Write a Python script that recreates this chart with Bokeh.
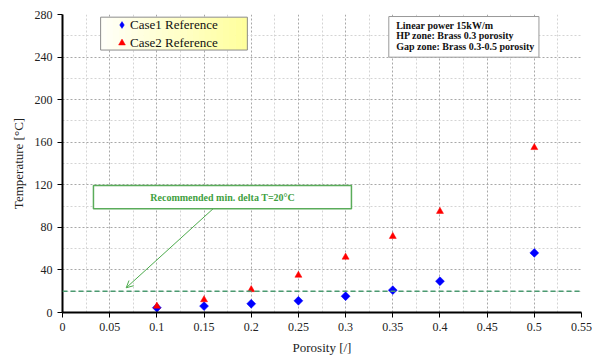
import numpy as np
from bokeh.plotting import figure
from bokeh.models import (Range1d, FixedTicker, CustomJSTickFormatter, Span, BoxAnnotation,
                          Label, Arrow, OpenHead, Legend, LegendItem)
from bokeh.embed import file_html
from bokeh.resources import INLINE

# ---- data ----
porosity = [0.1, 0.15, 0.2, 0.25, 0.3, 0.35, 0.4, 0.5]
case1_temp = [4.5, 6.0, 8.2, 11.0, 15.3, 21.0, 29.4, 56.0]
case2_temp = [6.0, 12.0, 21.5, 35.0, 52.0, 71.5, 95.0, 155.0]
x_major = [0, 0.05, 0.1, 0.15, 0.2, 0.25, 0.3, 0.35, 0.4, 0.45, 0.5, 0.55]
x_minor = [0.025, 0.075, 0.125, 0.175, 0.225, 0.275, 0.325, 0.375, 0.425, 0.475, 0.525]
y_major = [0, 40, 80, 120, 160, 200, 240, 280]
y_minor = [20, 60, 100, 140, 180, 220, 260]
recommended_delta_t = 20
info_lines = ["Linear power 15kW/m", "HP zone: Brass 0.3 porosity", "Gap zone: Brass 0.3-0.5 porosity"]
green_note = "Recommended min. delta T=20\u00b0C"

SERIF = "Liberation Serif"
GREEN = "#3f9f3f"

p = figure(width=602, height=361, x_range=Range1d(0, 0.55), y_range=Range1d(0, 280),
           output_backend="svg", toolbar_location=None,
           min_border_left=62, min_border_right=21, min_border_top=14, min_border_bottom=49)
p.outline_line_color = None
p.background_fill_color = "white"

# axes
p.xaxis.ticker = FixedTicker(ticks=x_major, minor_ticks=x_minor)
p.yaxis.ticker = FixedTicker(ticks=y_major, minor_ticks=y_minor)
p.xaxis.formatter = CustomJSTickFormatter(code="return (Math.round(tick*1000)/1000).toString();")
for ax in (p.xaxis, p.yaxis):
    ax.axis_line_width = 2
    ax.axis_line_color = "black"
    ax.major_tick_in = 0
    ax.major_tick_out = 5
    ax.major_tick_line_width = 1
    ax.major_tick_line_color = "black"
    ax.minor_tick_line_color = None
    ax.major_label_text_font = SERIF
    ax.major_label_text_font_size = "12px"
    ax.major_label_text_color = "#222222"
    ax.axis_label_text_font = SERIF
    ax.axis_label_text_font_size = "13px"
    ax.axis_label_text_font_style = "normal"
    ax.axis_label_text_color = "#222222"
p.xaxis.axis_label = "Porosity [/]"
p.yaxis.axis_label = "Temperature [\u00b0C]"
p.xaxis.major_label_standoff = 5
p.xaxis.axis_label_standoff = 6
p.yaxis.major_label_standoff = 5
p.yaxis.axis_label_standoff = 6

# grid
for g in (p.xgrid, p.ygrid):
    g.grid_line_color = "#a8a8a8"
    g.grid_line_dash = "2 2"
    g.grid_line_width = 1
    g.minor_grid_line_color = "#d4d4d4"
    g.minor_grid_line_dash = "2 2"
    g.minor_grid_line_width = 1

# recommended delta T line
p.add_layout(Span(location=recommended_delta_t, dimension="width", line_color="#4a9a70",
                  line_dash="5 3", line_width=1.5))

# data: Case1 diamonds (legend key drawn underneath, the rotated square on top)
r1_key = p.scatter(porosity, case1_temp, marker="diamond", size=7, fill_color="#0000ff",
                   line_color="#0000ff", line_width=0.5)
r1 = p.scatter(porosity, case1_temp, marker="square", angle=np.pi / 4, size=6.3,
               fill_color="#0000ff", line_color="#0000ff", line_width=0.5)
r2 = p.scatter(porosity, case2_temp, marker="triangle", size=7, fill_color="#ff0000",
               line_color="#ff0000", line_width=0.5)

# legend background (gradient white -> light yellow)
lx0, lx1, ly0, ly1 = 0.0404, 0.1959, 246.6, 277.5
n_strips = 24
for i in range(n_strips):
    t = (i + 0.5) / n_strips
    b = int(round(250 - 95 * t))
    col = "#%02x%02x%02x" % (255, 255, max(0, min(255, b)))
    p.add_layout(BoxAnnotation(left=lx0 + (lx1 - lx0) * i / n_strips,
                               right=lx0 + (lx1 - lx0) * (i + 1) / n_strips + 0.0005,
                               bottom=ly0, top=ly1, fill_color=col, fill_alpha=1,
                               line_color=None))
p.add_layout(BoxAnnotation(left=lx0, right=lx1, bottom=ly0, top=ly1, fill_color=None,
                           line_color="#8c8c8c", line_alpha=1, line_width=1))

legend = Legend(items=[LegendItem(label="Case1 Reference", renderers=[r1_key]),
                       LegendItem(label="Case2 Reference", renderers=[r2])],
                location=(51, 261), margin=0, padding=0, spacing=1,
                glyph_width=17, glyph_height=17, label_height=17, label_standoff=0,
                label_text_font=SERIF, label_text_font_size="13px",
                label_text_color="#111111",
                background_fill_alpha=0, border_line_alpha=0)
p.add_layout(legend)

# info box top right
p.add_layout(BoxAnnotation(left=0.3458, right=0.5049, bottom=239.9, top=278.1,
                           fill_color="white", fill_alpha=1, line_color="#999999",
                           line_alpha=1, line_width=1))
for txt, yy in zip(info_lines, [269.7, 260.3, 249.9]):
    p.add_layout(Label(x=0.3536, y=yy, text=txt, text_font=SERIF, text_font_size="10px",
                       text_font_style="bold", text_baseline="middle", text_align="left",
                       text_color="#111111"))

# green note box + arrow
p.add_layout(BoxAnnotation(left=0.0328, right=0.3062, bottom=97.4, top=119.3,
                           fill_color="white", fill_alpha=1, line_color="#5aac5a",
                           line_alpha=1, line_width=1.5))
p.add_layout(Label(x=0.1697, y=108.3, text=green_note, text_font=SERIF, text_font_size="10px",
                   text_font_style="bold", text_baseline="middle", text_align="center",
                   text_color=GREEN))
p.add_layout(Arrow(x_start=0.1595, y_start=97.4, x_end=0.0675, y_end=23.2,
                   line_color="#4caa4c", line_width=1,
                   end=OpenHead(size=7, line_color="#4caa4c", line_width=1)))

open("out.html", "w").write(file_html(p, INLINE))
